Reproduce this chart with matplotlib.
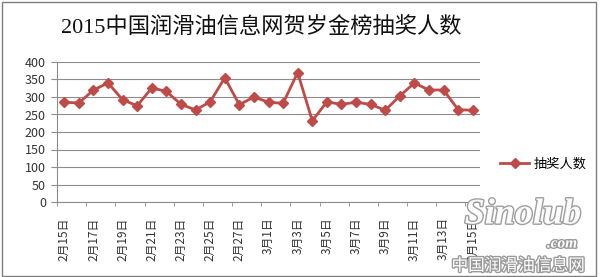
import matplotlib.pyplot as plt
import matplotlib.patheffects as pe
from matplotlib.patches import Rectangle

plt.rcParams['font.family'] = ['Noto Sans CJK SC', 'DejaVu Sans']

# 日期: 2月15日 ~ 3月15日
dates = [f'2月{d}日' for d in range(15, 29)] + [f'3月{d}日' for d in range(1, 16)]
counts = [285, 283, 320, 340, 292, 275, 326, 316, 279, 263, 286, 355, 278,
          300, 285, 282, 370, 232, 286, 279, 285, 279, 262, 303, 340, 320,
          320, 264, 262]
yticks = [0, 50, 100, 150, 200, 250, 300, 350, 400]

red = '#BE4B48'
gray = '#8C8C8C'

fig = plt.figure(figsize=(6, 2.77), dpi=100)
fig.patches.append(Rectangle((0.004, 0.004), 0.99, 0.99, transform=fig.transFigure,
                             fill=False, edgecolor='#7F7F7F', linewidth=1.0))

ax = fig.add_axes([57 / 600, 1 - 202 / 277, 423 / 600, 140 / 277])
x = list(range(len(dates)))
ax.plot(x, counts, color=red, linewidth=2.0, marker='D', markersize=5.5,
        markeredgecolor=red, markerfacecolor=red, label='抽奖人数', clip_on=False)

ax.set_xlim(-0.5, len(dates) - 0.5)
ax.set_ylim(0, 400)
ax.set_yticks(yticks)
ax.set_yticklabels([str(v) for v in yticks], fontsize=9, color='#333333')
ax.grid(axis='y', color=gray, linewidth=0.8)
ax.set_axisbelow(True)

ax.set_xticks(x[::2])
ax.set_xticklabels(dates[::2], rotation=90, fontsize=8.5, color='#333333')
ax.set_xticks([i - 0.5 for i in x[::2]], minor=True)
ax.tick_params(axis='x', which='major', length=0, pad=11)
ax.tick_params(axis='x', which='minor', length=3, color=gray, direction='out')
ax.tick_params(axis='y', length=4, color=gray, direction='out', pad=4)

for s in ['top', 'right']:
    ax.spines[s].set_visible(False)
for s in ['left', 'bottom']:
    ax.spines[s].set_color(gray)
    ax.spines[s].set_linewidth(0.8)

fig.legend(loc='center left', bbox_to_anchor=(495 / 600, 1 - 164 / 277), frameon=False,
           fontsize=9.5, handlelength=2.2, handletextpad=0.3, borderaxespad=0)

fig.text(261 / 600, 1 - 28 / 277, '2015中国润滑油信息网贺岁金榜抽奖人数',
         ha='center', va='center', fontsize=16,
         family=['Liberation Serif', 'Noto Sans CJK SC'], color='#111111')

# 水印
wm = [pe.withStroke(linewidth=2.0, foreground='#9A9A9A')]
fig.text(523 / 600, 1 - 215 / 277, 'Sinolub', ha='center', va='center', fontsize=26,
         family='Liberation Serif', style='italic', weight='bold', color='white',
         path_effects=wm, alpha=0.95)
fig.text(562 / 600, 1 - 244 / 277, '.com', ha='center', va='center', fontsize=11,
         family='Liberation Serif', style='italic', weight='bold', color='white',
         path_effects=wm)
fig.text(518 / 600, 1 - 266 / 277, '中国润滑油信息网', ha='center', va='center',
         fontsize=12, color='white', path_effects=wm)

fig.savefig('out.png', dpi=100)
